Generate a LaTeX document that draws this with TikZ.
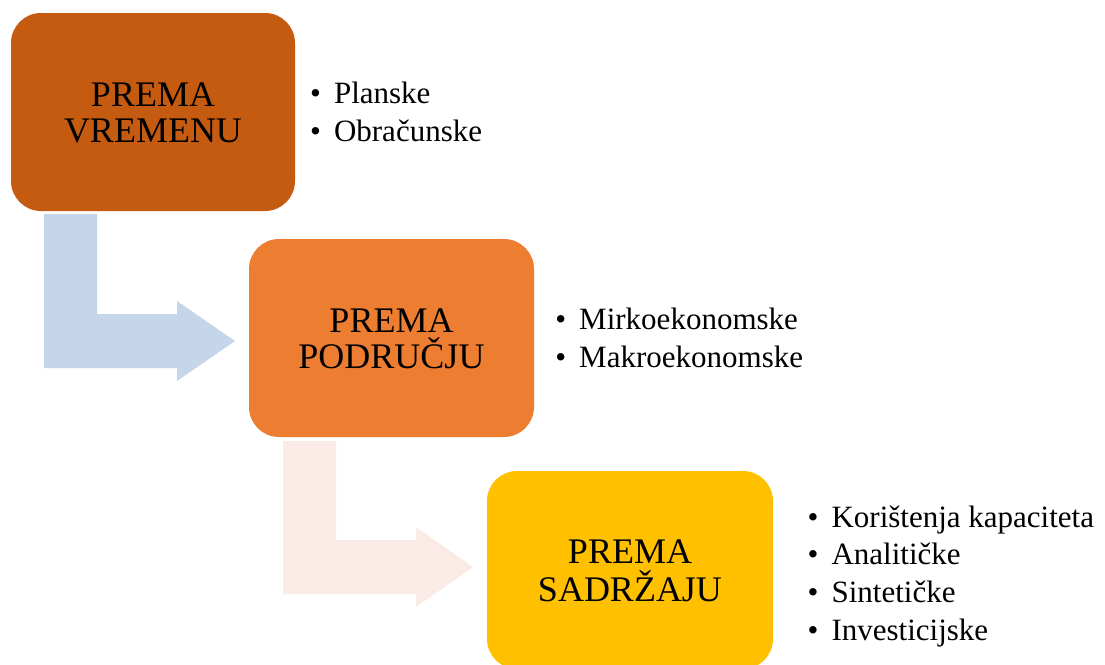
\documentclass[tikz,border=0pt]{standalone}
\usepackage{fontspec}
\setmainfont{Liberation Serif}
\definecolor{boxA}{HTML}{C55A11}
\definecolor{boxB}{HTML}{ED7D31}
\definecolor{boxC}{HTML}{FFC000}
\definecolor{arrA}{HTML}{C5D5EA}
\definecolor{arrB}{HTML}{FBEBE6}
\tikzset{
  stepbox/.style={rounded corners=30pt, minimum width=285pt, minimum height=198pt, inner sep=0pt, draw=none},
  boxtext/.style={anchor=base, inner sep=0pt, font=\fontsize{36}{36}\selectfont},
  listtext/.style={anchor=base west, inner sep=0pt, font=\fontsize{31}{37.8}\selectfont},
}
\newcommand{\bulletlist}[1]{\begin{tabular}[t]{@{}l@{\hspace{13pt}}l@{}}#1\end{tabular}}
\begin{document}
\begin{tikzpicture}[x=1pt,y=-1pt]
\clip (0,0) rectangle (1105,664);
\fill[white] (0,0) rectangle (1105,664);
% bent arrows
\fill[arrA] (44,214) -- (97,214) -- (97,314) -- (177,314) -- (177,301) -- (235,341) -- (177,381) -- (177,368) -- (44,368) -- cycle;
\fill[arrB] (283,441) -- (336,441) -- (336,540) -- (416,540) -- (416,527) -- (473,567) -- (416,607) -- (416,594) -- (283,594) -- cycle;
% boxes
\node[stepbox, fill=boxA, minimum width=284pt] (b1) at (153,112) {};
\node[stepbox, fill=boxB] (b2) at (391.5,338) {};
\node[stepbox, fill=boxC, minimum width=286pt] (b3) at (630,570) {};
% box texts
\node[boxtext] (t1a) at (153,106) {PREMA};
\node[boxtext] (t1b) at (153,142) {VREMENU};
\node[boxtext] (t2a) at (391.5,332) {PREMA};
\node[boxtext] (t2b) at (391.5,368.5) {PODRUČJU};
\node[boxtext] (t3a) at (630,563.5) {PREMA};
\node[boxtext] (t3b) at (630,601) {SADRŽAJU};
% lists
\node[listtext] (l1) at (310,103.2) {\bulletlist{• & Planske\\ • & Obračunske}};
\node[listtext] (l2) at (555.2,329.5) {\bulletlist{• & Mirkoekonomske\\ • & Makroekonomske}};
\node[listtext] (l3) at (807.5,527) {\bulletlist{• & Korištenja kapaciteta\\ • & Analitičke\\ • & Sintetičke\\ • & Investicijske}};
\end{tikzpicture}
\end{document}
